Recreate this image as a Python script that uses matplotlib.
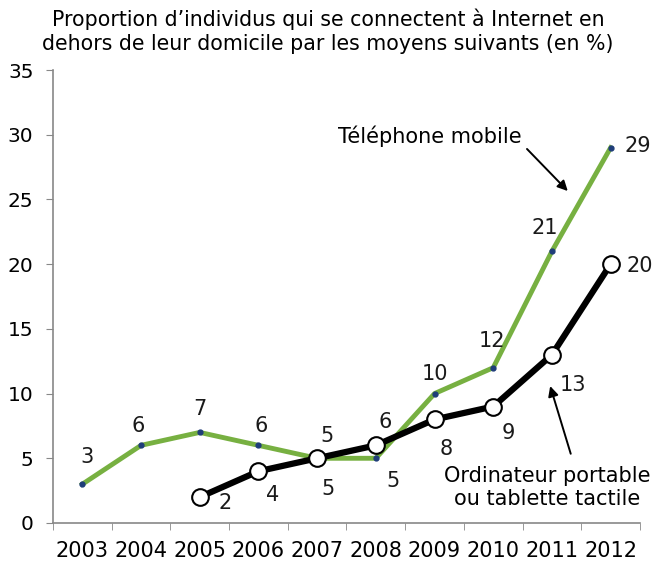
import matplotlib
matplotlib.use("Agg")
import matplotlib.pyplot as plt

# Données
annees = ["2003", "2004", "2005", "2006", "2007", "2008", "2009", "2010", "2011", "2012"]
mobile = [3, 6, 7, 6, 5, 5, 10, 12, 21, 29]
portable_annees = ["2005", "2006", "2007", "2008", "2009", "2010", "2011", "2012"]
portable = [2, 4, 5, 6, 8, 9, 13, 20]

# décalages des étiquettes en points : (dx, dy)
off_mobile = [(3.6, 19.4), (-2, 13.7), (0, 17), (2, 13.7), (7, 16),
              (12, -16.5), (0, 14.4), (-1, 19.4), (-5, 16.5), (19.4, 1.4)]
off_portable = [(18, -4.3), (10, -17), (8, -22), (7, 16.5),
                (8.6, -21.6), (10.8, -19.4), (15, -21.6), (21, -1.4)]

plt.rcParams["font.family"] = ["DejaVu Sans"]
fig = plt.figure(figsize=(6.56, 5.62), dpi=100)
ax = fig.add_axes([0.0808, 0.0694, 0.8948, 0.806])

xm = [annees.index(a) for a in annees]
xp = [annees.index(a) for a in portable_annees]

ax.plot(xm, mobile, color="#77b041", lw=3.5, zorder=2,
        marker="o", ms=3.5, mfc="#1f3d7a", mec="#1f3d7a")
ax.plot(xp, portable, color="black", lw=4.5, zorder=3,
        marker="o", ms=12, mfc="white", mec="black", mew=1.5)

for x, y, (dx, dy) in zip(xm, mobile, off_mobile):
    ax.annotate(str(y), (x, y), xytext=(dx, dy), textcoords="offset points",
                ha="center", va="center", fontsize=15, color="#1a1a1a")
for x, y, (dx, dy) in zip(xp, portable, off_portable):
    ax.annotate(str(y), (x, y), xytext=(dx, dy), textcoords="offset points",
                ha="center", va="center", fontsize=15, color="#1a1a1a")

fleche = dict(arrowstyle="-|>", color="black", lw=1.4, shrinkA=0, shrinkB=0,
              mutation_scale=15)
ax.text(5.92, 29.9, "Téléphone mobile", ha="center", va="center", fontsize=15)
ax.annotate("", xy=(8.27, 25.65), xytext=(7.575, 28.9), arrowprops=fleche)
ax.text(7.92, 2.75, "Ordinateur portable\nou tablette tactile", ha="center", va="center",
        fontsize=15, linespacing=1.15)
ax.annotate("", xy=(7.97, 10.58), xytext=(8.32, 5.35), arrowprops=fleche)

ax.set_xlim(-0.5, 9.5)
ax.set_ylim(0, 35)
ax.set_yticks(range(0, 36, 5))
ax.set_xticks(range(len(annees)))
ax.set_xticklabels(annees)
ax.set_xticks([i - 0.5 for i in range(len(annees) + 1)], minor=True)
ax.tick_params(axis="x", which="major", length=0, pad=13, labelsize=15)
ax.tick_params(axis="x", which="minor", length=5, color="#888888")
ax.tick_params(axis="y", length=5, color="#888888", labelsize=14.5, pad=9)
for s in ["top", "right"]:
    ax.spines[s].set_visible(False)
for s in ["left", "bottom"]:
    ax.spines[s].set_color("#888888")
    ax.spines[s].set_linewidth(1.2)

fig.text(0.5, 0.984, "Proportion d\u2019individus qui se connectent à Internet en\n"
         "dehors de leur domicile par les moyens suivants (en %)",
         ha="center", va="top", fontsize=14.8, linespacing=1.2)

fig.savefig("out.png", dpi=100)
